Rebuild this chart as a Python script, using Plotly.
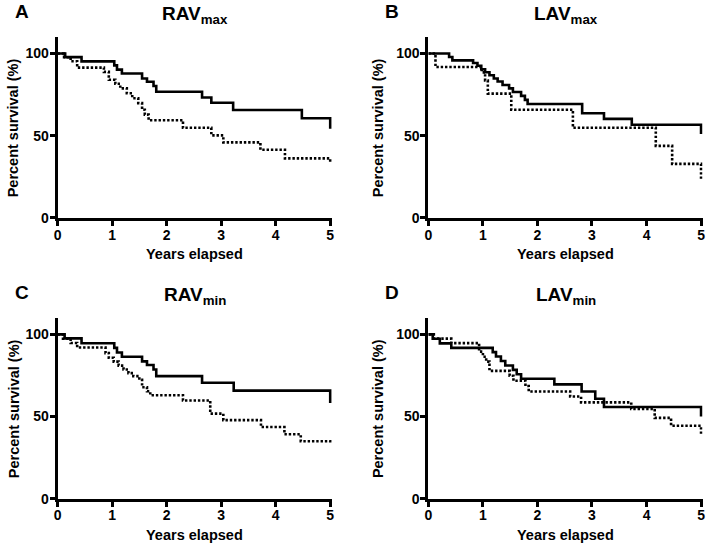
import plotly.graph_objects as go

W, H = 709, 553

# ---------------- data (years, percent survival) ----------------
# Panel A: RAVmax
a_solid_t = [0, 0.14, 0.44, 1.04, 1.09, 1.18, 1.55, 1.64, 1.76, 1.81, 2.65, 2.82, 3.22, 4.48, 5.0]
a_solid_v = [100, 97.8, 95.2, 92.8, 90.2, 87.8, 84.8, 82.8, 80.2, 76.7, 73.2, 70.0, 65.6, 60.6, 54.2]
a_dot_t = [0, 0.12, 0.24, 0.36, 0.85, 0.94, 1.06, 1.15, 1.27, 1.37, 1.48, 1.55, 1.6, 1.67, 2.3, 2.82, 3.04, 3.72, 4.17, 5.0]
a_dot_v = [100, 97.7, 95.3, 91.4, 88.8, 84.0, 81.6, 78.8, 75.8, 72.8, 69.8, 65.8, 62.8, 59.4, 54.8, 50.2, 45.9, 41.4, 36.2, 33.0]

# Panel B: LAVmax
b_solid_t = [0, 0.38, 0.44, 0.82, 0.9, 0.97, 1.04, 1.12, 1.2, 1.27, 1.36, 1.48, 1.55, 1.7, 1.77, 1.82, 2.82, 3.22, 3.73, 5.0]
b_solid_v = [100, 97.9, 95.8, 94.2, 92.6, 90.4, 88.6, 86.8, 84.8, 83.0, 80.8, 78.8, 76.6, 74.2, 71.8, 69.3, 63.6, 60.2, 56.6, 51.0]
b_dot_t = [0, 0.13, 0.98, 1.04, 1.09, 1.52, 2.65, 4.17, 4.47, 5.0]
b_dot_v = [100, 91.8, 88.5, 83.6, 75.6, 65.8, 54.8, 43.8, 32.8, 23.0]

# Panel C: RAVmin
c_solid_t = [0, 0.13, 0.44, 1.04, 1.09, 1.18, 1.55, 1.64, 1.76, 1.81, 2.65, 3.23, 5.0]
c_solid_v = [100, 97.6, 94.6, 91.8, 89.0, 86.4, 83.6, 81.4, 78.6, 74.6, 70.6, 65.8, 58.2]
c_dot_t = [0, 0.1, 0.24, 0.36, 0.88, 0.94, 1.03, 1.12, 1.21, 1.3, 1.39, 1.5, 1.55, 1.64, 1.7, 2.3, 2.8, 3.04, 3.73, 4.16, 4.46, 5.0]
c_dot_v = [100, 97.4, 94.8, 92.0, 88.6, 85.8, 83.4, 81.0, 78.6, 76.4, 74.6, 72.4, 67.8, 65.4, 63.0, 59.8, 51.8, 47.8, 43.6, 39.2, 35.0, 33.0]

# Panel D: LAVmin
d_solid_t = [0, 0.08, 0.21, 0.42, 1.18, 1.24, 1.33, 1.41, 1.55, 1.62, 1.7, 2.31, 2.81, 3.06, 3.22, 5.0]
d_solid_v = [100, 97.3, 94.5, 91.8, 89.2, 86.5, 83.8, 81.1, 78.4, 75.7, 73.0, 69.6, 65.2, 60.8, 55.8, 50.0]
d_dot_t = [0, 0.1, 0.42, 0.93, 1.0, 1.06, 1.12, 1.49, 1.56, 1.78, 1.84, 2.6, 2.8, 3.72, 4.15, 4.45, 5.0]
d_dot_v = [100, 97.4, 94.7, 89.5, 86.4, 83.4, 77.8, 74.8, 71.8, 68.6, 65.2, 62.2, 58.6, 54.6, 49.2, 44.4, 39.5]

panel_letters = ["A", "B", "C", "D"]
panel_titles = ["RAV<sub>max</sub>", "LAV<sub>max</sub>", "RAV<sub>min</sub>", "LAV<sub>min</sub>"]
x_ticks = [0, 1, 2, 3, 4, 5]
y_ticks = [0, 50, 100]
x_title = "Years elapsed"
y_title = "Percent survival (%)"

series = [
    (a_solid_t, a_solid_v, a_dot_t, a_dot_v),
    (b_solid_t, b_solid_v, b_dot_t, b_dot_v),
    (c_solid_t, c_solid_v, c_dot_t, c_dot_v),
    (d_solid_t, d_solid_v, d_dot_t, d_dot_v),
]

# ---------------- layout geometry (pixels) ----------------
FONT = "Liberation Sans, Arial, Helvetica, sans-serif"
XMAX = 5.03
YMAX = 110
px_per_year = 55.0
# (x of y-axis, y pixel of value 0, y pixel of value 100)
geo = [(54, 221, 54.3), (428, 221, 54.3), (54, 506, 339.3), (428, 506, 339.3)]


def px(x):
    return x / W


def py(y):
    return 1 - y / H


fig = go.Figure()
layout = dict(
    width=W, height=H, margin=dict(l=0, r=0, t=0, b=0),
    plot_bgcolor="white", paper_bgcolor="white", showlegend=False,
    font=dict(family=FONT, color="black"),
)
annotations = []

for i, (st, sv, dt, dv) in enumerate(series):
    n = i + 1
    xa = "x" if n == 1 else f"x{n}"
    ya = "y" if n == 1 else f"y{n}"
    x0, y0pix, y100pix = geo[i]
    pxv = (y0pix - y100pix) / 100.0
    x1 = x0 + px_per_year * XMAX
    ytop = y0pix - pxv * YMAX

    fig.add_trace(go.Scatter(x=st, y=sv, mode="lines", line=dict(color="black", width=2.6, shape="hv"),
                             xaxis=xa, yaxis=ya, hoverinfo="skip"))
    fig.add_trace(go.Scatter(x=dt, y=dv, mode="lines",
                             line=dict(color="black", width=2.6, shape="hv", dash="2.4px,1.9px"),
                             xaxis=xa, yaxis=ya, hoverinfo="skip"))

    axcommon = dict(showline=True, linecolor="black", linewidth=3, ticks="outside", ticklen=5,
                    tickwidth=2.5, tickcolor="black", showgrid=False, zeroline=False,
                    tickfont=dict(family=FONT, size=14, color="black", weight="bold"), fixedrange=True)
    layout["xaxis" if n == 1 else f"xaxis{n}"] = dict(
        axcommon, domain=[px(x0), px(x1)], range=[0, XMAX], tickvals=x_ticks,
        anchor=ya, ticklabelstandoff=-3)
    layout["yaxis" if n == 1 else f"yaxis{n}"] = dict(
        axcommon, domain=[py(y0pix), py(ytop)], range=[0, YMAX], tickvals=y_ticks,
        anchor=xa, ticklabelstandoff=-2)

    cx = x0 + px_per_year * 2.5 + 1
    # panel letter
    annotations.append(dict(text=f"<b>{panel_letters[i]}</b>", x=px(x0 - 36 if i % 2 == 0 else x0 - 37),
                            y=py(y0pix - 209), xref="paper", yref="paper", showarrow=False,
                            xanchor="center", yanchor="middle", font=dict(size=19, family=FONT)))
    # panel title
    annotations.append(dict(text=f"<b>{panel_titles[i]}</b>", x=px(cx), y=py(y0pix - 220),
                            xref="paper", yref="paper", showarrow=False, xanchor="center",
                            yanchor="top", font=dict(size=19, family=FONT)))
    # x title
    annotations.append(dict(text=f"<b>{x_title}</b>", x=px(cx), y=py(y0pix + 37),
                            xref="paper", yref="paper", showarrow=False, xanchor="center",
                            yanchor="middle", font=dict(size=14.5, family=FONT)))
    # y title
    annotations.append(dict(text=f"<b>{y_title}</b>", x=px(x0 - 44 if i % 2 == 0 else x0 - 50),
                            y=py((y0pix + ytop) / 2), xref="paper", yref="paper",
                            showarrow=False, xanchor="center", yanchor="middle", textangle=-90,
                            font=dict(size=14.5, family=FONT)))

layout["annotations"] = annotations
fig.update_layout(**layout)
fig.write_html("out.html", config={"displayModeBar": False},
               post_script="document.body.style.margin='0';document.body.style.overflow='hidden';")
